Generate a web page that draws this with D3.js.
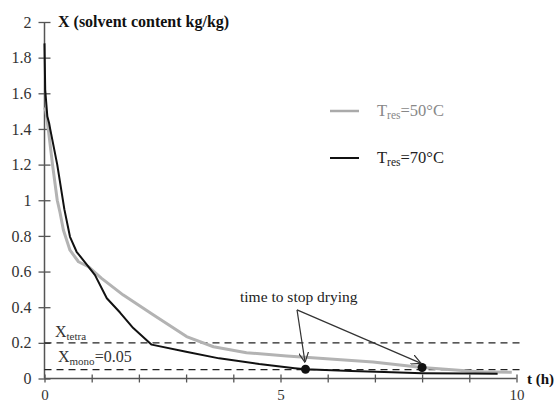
<!DOCTYPE html>
<html><head><meta charset="utf-8">
<script src="https://cdn.jsdelivr.net/npm/d3@7"></script>
<style>body{margin:0;background:#fff}svg{display:block}svg text{font-family:"Liberation Serif","Tinos","DejaVu Serif","Noto Serif",serif !important}</style>
</head><body><svg id="c" width="556" height="406"></svg>
<script>
const series50 = [[0,1.52],[0.03,1.5],[0.08,1.4],[0.17,1.2],[0.27,1.0],[0.33,0.93],[0.40,0.833],[0.54,0.72],[0.72,0.655],[0.93,0.627],[1.21,0.562],[1.67,0.468],[2.31,0.356],[3.01,0.235],[3.58,0.178],[4.28,0.145],[5.13,0.126],[5.52,0.119],[6.96,0.092],[8.0,0.062],[9.2,0.038],[9.9,0.035]];
const series70 = [[0,1.88],[0.015,1.62],[0.06,1.47],[0.1,1.43],[0.12,1.40],[0.27,1.2],[0.42,0.95],[0.54,0.795],[0.68,0.711],[0.93,0.627],[1.07,0.58],[1.32,0.45],[1.6,0.37],[1.88,0.283],[2.27,0.19],[3.0,0.15],[3.7,0.113],[4.55,0.081],[5.3,0.058],[5.53,0.052],[6.5,0.042],[7.2,0.036],[8.0,0.03],[9.0,0.028],[9.6,0.027]];
const stopPoints = [[5.53,0.052],[8.0,0.062]];
const arrowApex = [5.35,0.385];
const arrowTips = [[5.52,0.09],[7.98,0.085]];
const yTicks = [0,0.2,0.4,0.6,0.8,1,1.2,1.4,1.6,1.8,2];
const yTickLabels = ["0","0.2","0.4","0.6","0.8","1","1.2","1.4","1.6","1.8","2"];
const xTicks = [0,1,2,3,4,5,6,7,8,9,10];
const xTickLabels = {0:"0",5:"5",10:"10"};
const thresholds = [0.2,0.05];

const FONT = '"Liberation Serif","Tinos","DejaVu Serif","Noto Serif",serif';
const svg = d3.select("#c");
const x = d3.scaleLinear().domain([0,10]).range([44.5,516.5]);
const y = d3.scaleLinear().domain([0,2]).range([378.5,22]);
const axisColor = "#555";

// y axis
const ya = svg.append("g").attr("transform",`translate(${x(0)},0)`)
  .call(d3.axisLeft(y).tickValues(yTicks).tickSize(6).tickPadding(7).tickFormat((d,i)=>yTickLabels[i]));
ya.attr("font-family",FONT);
ya.select(".domain").attr("stroke",axisColor).attr("stroke-width",1.5).attr("d",`M0,${y(0)}V${y(2)}`);
ya.selectAll(".tick line").attr("x1",-6).attr("x2",6).attr("stroke",axisColor).attr("stroke-width",1.3);
ya.selectAll(".tick text").attr("font-size",16).attr("fill","#333");

// x axis
const xa = svg.append("g").attr("transform",`translate(0,${y(0)})`)
  .call(d3.axisBottom(x).tickValues(xTicks).tickSize(5).tickPadding(6).tickFormat(d=>xTickLabels[d]||""));
xa.attr("font-family",FONT);
xa.select(".domain").attr("stroke",axisColor).attr("stroke-width",1.5).attr("d",`M${x(0)},0H${x(10)}`);
xa.selectAll(".tick line").attr("y1",-4).attr("y2",4).attr("stroke",axisColor).attr("stroke-width",1.3);
xa.selectAll(".tick text").attr("font-size",15).attr("fill","#333");

// thresholds
svg.selectAll(".thr").data(thresholds).join("line")
  .attr("x1",x(0)).attr("x2",x(10.1)).attr("y1",d=>y(d)).attr("y2",d=>y(d))
  .attr("stroke","#222").attr("stroke-width",1.3).attr("stroke-dasharray","7,5");

const line = d3.line().x(d=>x(d[0])).y(d=>y(d[1]));
svg.append("path").datum(series50).attr("d",line).attr("fill","none").attr("stroke","#b3b3b3").attr("stroke-width",3).attr("stroke-linejoin","round");
svg.append("path").datum(series70).attr("d",line).attr("fill","none").attr("stroke","#111").attr("stroke-width",2).attr("stroke-linejoin","round");

// dots
svg.selectAll(".dot").data(stopPoints).join("circle")
  .attr("cx",d=>x(d[0])).attr("cy",d=>y(d[1])).attr("r",4.5).attr("fill","#111");

// arrows
svg.append("defs").append("marker").attr("id","ah").attr("viewBox","0 0 10 10")
  .attr("refX",10).attr("refY",5).attr("markerWidth",10).attr("markerHeight",10)
  .attr("markerUnits","userSpaceOnUse").attr("orient","auto")
  .append("path").attr("d","M0,0L10,5L0,10").attr("fill","none").attr("stroke","#333").attr("stroke-width",1.2);
svg.selectAll(".arr").data(arrowTips).join("line")
  .attr("x1",x(arrowApex[0])).attr("y1",y(arrowApex[1])).attr("x2",d=>x(d[0])).attr("y2",d=>y(d[1]))
  .attr("stroke","#333").attr("stroke-width",1.2).attr("marker-end","url(#ah)");
svg.append("text").attr("x",240).attr("y",302).attr("font-size",15.5).attr("fill","#222").text("time to stop drying");

// axis titles
svg.append("text").attr("x",58).attr("y",27).attr("font-size",16).attr("font-weight","bold").attr("fill","#111").text("X (solvent content kg/kg)");
svg.append("text").attr("x",527).attr("y",384).attr("font-size",15).attr("font-weight","bold").attr("fill","#111").text("t (h)");

// threshold labels
const t1 = svg.append("text").attr("x",55).attr("y",337).attr("font-size",16).attr("fill","#333");
t1.append("tspan").text("X");
t1.append("tspan").attr("font-size",11).attr("dy",3).text("tetra");
const t2 = svg.append("text").attr("x",58).attr("y",362).attr("font-size",16).attr("fill","#333");
t2.append("tspan").text("X");
t2.append("tspan").attr("font-size",11).attr("dy",3).text("mono");
t2.append("tspan").attr("dy",-3).text("=0.05");

// legend
const legend = [{label:"50°C",color:"#aaa",w:2.5,tc:"#888",y:111},{label:"70°C",color:"#111",w:2,tc:"#222",y:158}];
legend.forEach(l=>{
  svg.append("line").attr("x1",330).attr("x2",359).attr("y1",l.y).attr("y2",l.y).attr("stroke",l.color).attr("stroke-width",l.w);
  const t = svg.append("text").attr("x",377).attr("y",l.y+5).attr("font-size",16.5).attr("fill",l.tc);
  t.append("tspan").text("T");
  t.append("tspan").attr("font-size",11.5).attr("dy",3).text("res");
  t.append("tspan").attr("dy",-3).text("="+l.label);
});
</script></body></html>
